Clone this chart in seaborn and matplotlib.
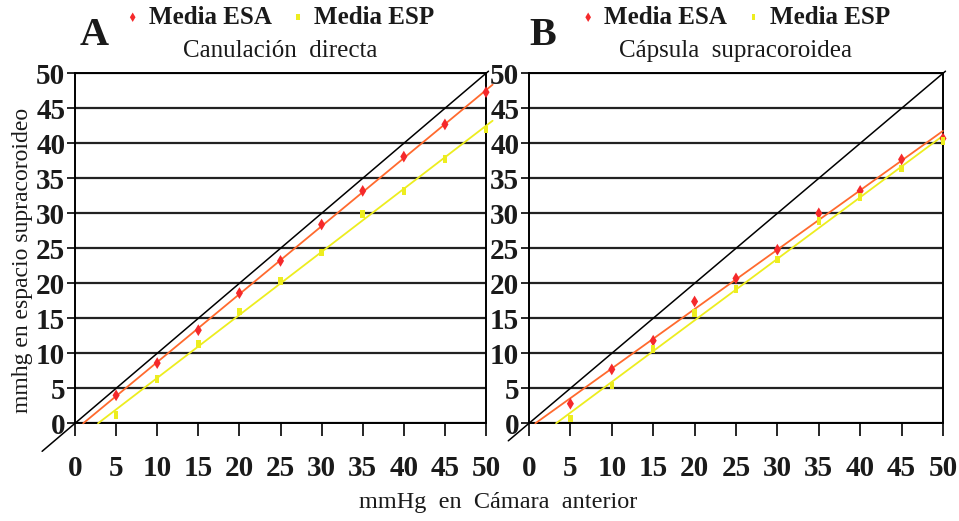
import numpy as np
import pandas as pd
import matplotlib
matplotlib.use('Agg')
import matplotlib.pyplot as plt
import seaborn as sns

# presion en camara anterior (mmHg)
presion = [5, 10, 15, 20, 25, 30, 35, 40, 45, 50]

# A - Canulacion directa
esa_a = [4.0, 8.6, 13.3, 18.6, 23.2, 28.4, 33.2, 38.1, 42.7, 47.3]
esp_a = [1.2, 6.3, 11.3, 16.0, 20.3, 24.4, 29.9, 33.2, 37.8, 42.0]

# B - Capsula supracoroidea
esa_b = [2.8, 7.7, 11.8, 17.4, 20.7, 24.8, 30.0, 33.2, 37.7, 40.7]
esp_b = [0.7, 5.4, 10.6, 15.8, 19.2, 23.4, 28.9, 32.3, 36.4, 40.3]

letras = ['A', 'B']
titulos = ['Canulación  directa', 'Cápsula  supracoroidea']

sns.set_style('white')
plt.rcParams['font.family'] = ['Liberation Serif', 'DejaVu Serif']
plt.rcParams['text.color'] = '#1a1a1a'

rojo = '#f5292b'
naranja = '#ff6a2e'
amarillo = '#eded1f'

# marcador rectangular fino para ESP
barra = [(-0.6, -1), (0.6, -1), (0.6, 1), (-0.6, 1)]

fig = plt.figure(figsize=(9.59, 5.21), dpi=100)
ax_a = fig.add_axes([0.0782, 0.1875, 0.4286, 0.6718])
ax_b = fig.add_axes([0.5516, 0.1875, 0.4317, 0.6718])

datos = [(ax_a, esa_a, esp_a, -4.0, 50.8, 0.012), (ax_b, esa_b, esp_b, -2.5, 50.0, 0.0)]

for i, (ax, esa, esp, x_ini, x_fin, x_letra) in enumerate(datos):
    df = pd.DataFrame({'presion': presion, 'ESA': esa, 'ESP': esp})

    # linea de igualdad
    ax.plot([x_ini, 50.3], [x_ini, 50.3], color='black', lw=1.1, clip_on=False, zorder=3)

    # lineas de tendencia (ajuste lineal)
    for col, c in [('ESA', naranja), ('ESP', amarillo)]:
        m, b = np.polyfit(df['presion'], df[col], 1)
        x0 = -b / m
        xs = np.array([x0, x_fin])
        sns.lineplot(x=xs, y=m * xs + b, ax=ax, color=c, lw=1.3, zorder=4)
        ax.lines[-1].set_clip_on(False)

    sns.scatterplot(data=df, x='presion', y='ESA', ax=ax, marker='d', s=36,
                    color=rojo, edgecolor='none', zorder=5, clip_on=False,
                    label='Media ESA')
    sns.scatterplot(data=df, x='presion', y='ESP', ax=ax, marker=barra, s=30,
                    color=amarillo, edgecolor='none', zorder=5, clip_on=False,
                    label='Media ESP')

    ax.set_xlim(0, 50)
    ax.set_ylim(0, 50)
    ax.set_xticks(range(0, 51, 5))
    ax.set_yticks(range(0, 51, 5))
    ax.yaxis.grid(True, color='#222222', lw=1.6)
    ax.xaxis.grid(False)
    ax.set_axisbelow(True)
    for s in ax.spines.values():
        s.set_visible(True)
        s.set_color('black')
        s.set_linewidth(1.4)
    ax.tick_params(axis='x', direction='out', length=9, width=1.4, pad=14,
                   bottom=True, labelsize=21)
    ax.tick_params(axis='y', direction='out', length=6, width=1.4, pad=1,
                   left=True, labelsize=21)
    for t in ax.get_xticklabels() + ax.get_yticklabels():
        t.set_fontweight('bold')
        t.set_color('#1a1a1a')
    ax.set_xlabel('')
    ax.set_ylabel('')

    ax.legend(loc='center', bbox_to_anchor=(0.5, 1.16), ncol=2,
              frameon=False, handlelength=0.5, handletextpad=0.4,
              columnspacing=0.8, markerscale=0.8,
              prop={'weight': 'bold', 'size': 18})
    ax.set_title(titulos[i], fontsize=18, pad=12)
    ax.text(x_letra, 1.108, letras[i], transform=ax.transAxes, fontsize=29,
            fontweight='bold', ha='left', va='center')

fig.text(0.023, 0.5, 'mmhg en espacio supracoroideo', rotation=90,
         ha='center', va='center', fontsize=17)
fig.text(0.519, 0.036, 'mmHg  en  Cámara  anterior', ha='center',
         va='center', fontsize=17.5)

fig.savefig('out.png', dpi=100)
